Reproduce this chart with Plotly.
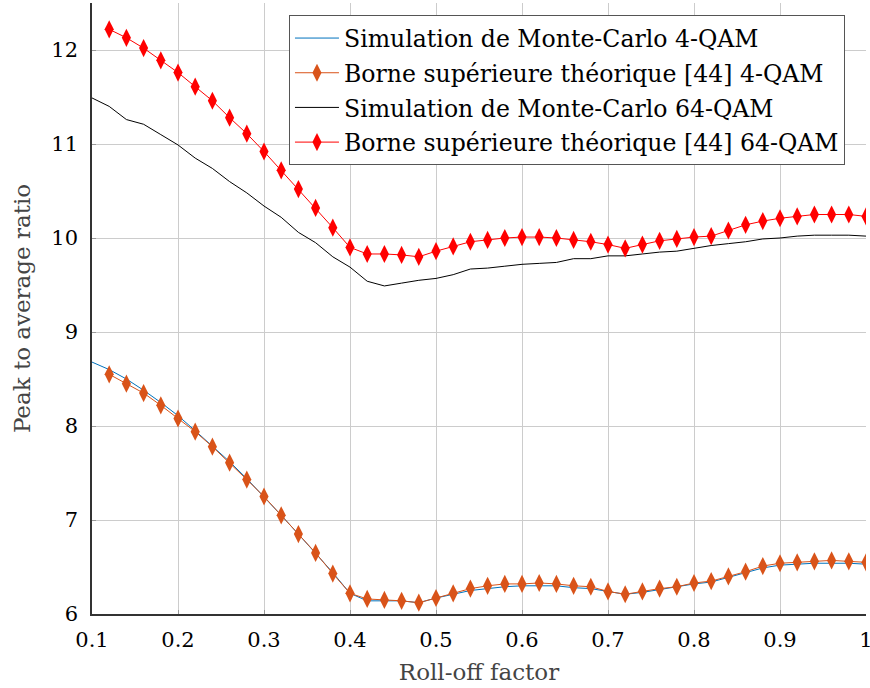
import plotly.graph_objects as go

x_sim = [0.10, 0.12, 0.14, 0.16, 0.18, 0.20, 0.22, 0.24, 0.26, 0.28, 0.30, 0.32, 0.34, 0.36, 0.38,
         0.40, 0.42, 0.44, 0.46, 0.48, 0.50, 0.52, 0.54, 0.56, 0.58, 0.60, 0.62, 0.64, 0.66, 0.68,
         0.70, 0.72, 0.74, 0.76, 0.78, 0.80, 0.82, 0.84, 0.86, 0.88, 0.90, 0.92, 0.94, 0.96, 0.98, 1.00]
x_bound = x_sim[1:]

sim_4qam = [8.68, 8.60, 8.50, 8.38, 8.25, 8.11, 7.95, 7.79, 7.62, 7.44, 7.25, 7.05, 6.85, 6.65, 6.44,
            6.22, 6.14, 6.14, 6.14, 6.12, 6.17, 6.21, 6.25, 6.27, 6.29, 6.30, 6.30, 6.30, 6.28, 6.27,
            6.24, 6.21, 6.23, 6.26, 6.29, 6.32, 6.34, 6.39, 6.44, 6.49, 6.52, 6.53, 6.54, 6.54, 6.54, 6.53]
bound_4qam = [8.55, 8.45, 8.35, 8.22, 8.08, 7.94, 7.78, 7.61, 7.43, 7.25, 7.05, 6.85, 6.65, 6.43,
              6.22, 6.16, 6.15, 6.14, 6.12, 6.17, 6.22, 6.27, 6.30, 6.32, 6.32, 6.33, 6.32, 6.30, 6.29,
              6.24, 6.21, 6.24, 6.27, 6.29, 6.33, 6.35, 6.40, 6.45, 6.51, 6.54, 6.55, 6.56, 6.57, 6.56, 6.55]
sim_64qam = [11.49, 11.40, 11.26, 11.21, 11.10, 10.99, 10.85, 10.74, 10.60, 10.48, 10.34, 10.22, 10.06, 9.95, 9.80,
             9.69, 9.54, 9.49, 9.52, 9.55, 9.57, 9.61, 9.67, 9.68, 9.70, 9.72, 9.73, 9.74, 9.78, 9.78,
             9.81, 9.81, 9.83, 9.85, 9.86, 9.89, 9.92, 9.94, 9.96, 9.99, 10.00, 10.02, 10.03, 10.03, 10.03, 10.02]
bound_64qam = [12.22, 12.13, 12.02, 11.89, 11.76, 11.61, 11.46, 11.28, 11.11, 10.92, 10.72, 10.52, 10.32, 10.11,
               9.90, 9.83, 9.83, 9.82, 9.80, 9.86, 9.91, 9.96, 9.98, 10.00, 10.01, 10.01, 10.00, 9.98, 9.96,
               9.93, 9.89, 9.93, 9.97, 9.99, 10.01, 10.02, 10.08, 10.14, 10.18, 10.21, 10.23, 10.25, 10.25, 10.25, 10.23]

names = ["Simulation de Monte-Carlo 4-QAM",
         "Borne supérieure théorique [44] 4-QAM",
         "Simulation de Monte-Carlo 64-QAM",
         "Borne supérieure théorique [44] 64-QAM"]

x_ticks = [0.1, 0.2, 0.3, 0.4, 0.5, 0.6, 0.7, 0.8, 0.9, 1.0]
x_ticktext = ["0.1", "0.2", "0.3", "0.4", "0.5", "0.6", "0.7", "0.8", "0.9", "1"]
y_ticks = [6, 7, 8, 9, 10, 11, 12]

FONT = "DejaVu Serif"

fig = go.Figure()
fig.add_trace(go.Scatter(x=x_sim, y=sim_4qam, mode="lines", name=names[0], legendgroup="a",
                         line=dict(color="#0072BD", width=1)))
fig.add_trace(go.Scatter(x=x_bound, y=bound_4qam, mode="lines+markers", name=names[1], legendgroup="b",
                         line=dict(color="#D95319", width=1),
                         marker=dict(symbol="diamond-tall", size=13, color="#D95319")))
fig.add_trace(go.Scatter(x=x_sim, y=sim_64qam, mode="lines", name=names[2], legendgroup="c",
                         line=dict(color="black", width=1)))
fig.add_trace(go.Scatter(x=x_bound, y=bound_64qam, mode="lines+markers", name=names[3], legendgroup="d",
                         line=dict(color="#FF0000", width=1),
                         marker=dict(symbol="diamond-tall", size=13, color="#FF0000")))

fig.update_layout(
    width=870, height=688,
    margin=dict(l=92, r=4, t=3, b=74),
    paper_bgcolor="white", plot_bgcolor="white",
    font=dict(family=FONT, size=21, color="black"),
    legend=dict(x=0.2545, y=0.980, xanchor="left", yanchor="top",
                bgcolor="white", bordercolor="#555555", borderwidth=1,
                font=dict(family=FONT, size=23.6), tracegroupgap=1,
                itemwidth=44),
    showlegend=True,
)
fig.update_xaxes(range=[0.1, 1.0], tickvals=x_ticks, ticktext=x_ticktext,
                 showgrid=True, gridcolor="#cccccc", gridwidth=1,
                 showline=True, linecolor="#333333", linewidth=1.5,
                 ticks="inside", ticklen=4, tickcolor="#999999", ticklabelstandoff=6,
                 zeroline=False, automargin=False, ticklabeloverflow="allow",
                 title=dict(text="Roll-off factor", font=dict(family=FONT, size=23, color="#444444"), standoff=13))
fig.update_yaxes(range=[6, 12.5], tickvals=y_ticks,
                 showgrid=True, gridcolor="#cccccc", gridwidth=1,
                 showline=True, linecolor="#333333", linewidth=1.5,
                 ticks="inside", ticklen=4, tickcolor="#999999", ticklabelstandoff=8,
                 zeroline=False, automargin=False,
                 title=dict(text="Peak to average ratio", font=dict(family=FONT, size=23, color="#444444"), standoff=14))

fig.write_html("out.html", config={"displayModeBar": False},
               post_script="document.body.style.margin='0';document.body.style.padding='0';")
